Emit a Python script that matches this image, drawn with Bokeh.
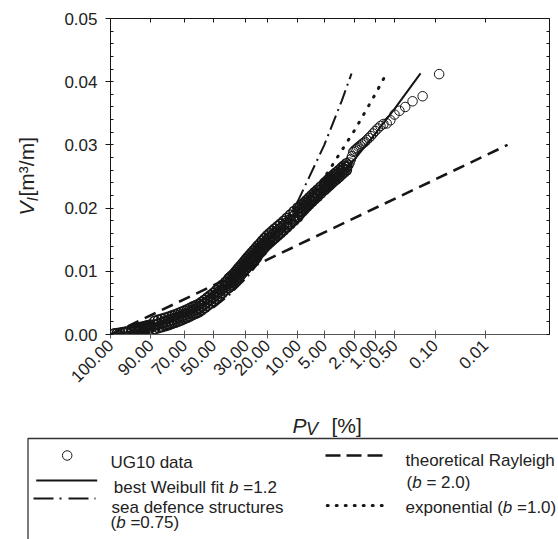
import numpy as np
from bokeh.plotting import figure
from bokeh.models import Range1d, LinearAxis, FixedTicker, SingleIntervalTicker, NumeralTickFormatter
from bokeh.layouts import row
from bokeh.embed import file_html
from bokeh.resources import INLINE
from bokeh.core.properties import value

FONT = "Liberation Sans"
INK = "#161616"
TXT = "#222222"

# ---------------- data ----------------
# x axis: exceedance probability P_V [%] (Rayleigh-linear probability scale)
tick_P = [100, 90, 70, 50, 30, 20, 10, 5, 2, 1, 0.5, 0.1, 0.01]
tick_labels = ["100.00", "90.00", "70.00", "50.00", "30.00", "20.00", "10.00",
               "5.00", "2.00", "1.00", "0.50", "0.10", "0.01"]

# UG10 data - dense part (centre of the band)
band_P = [99.9, 99.7, 99.4, 99.0, 98.5, 98.0, 97.0, 96.0, 95.0, 94.0, 93.0, 92.0, 91.0, 90.0,
          88.0, 86.0, 84.0, 82.0, 80.0, 78.0, 76.0, 74.0, 72.0, 70.0, 68.0, 66.0, 64.0, 62.0,
          60.0, 58.0, 56.0, 54.0, 52.0, 50.0, 48.0, 46.0, 44.0, 42.0, 40.0, 39.0, 38.0, 37.0,
          36.0, 35.0, 34.0, 33.0, 32.0, 31.0, 30.0, 29.0, 28.0, 27.0, 26.0, 25.0, 24.0, 23.0,
          22.0, 21.0, 20.0, 19.0, 18.0, 17.0, 16.0, 15.0, 14.0, 13.0, 12.0, 11.0, 10.0, 9.5,
          9.0, 8.5, 8.0, 7.5, 7.0, 6.5, 6.0, 5.5, 5.0, 4.75, 4.5, 4.25, 4.0, 3.75, 3.5, 3.25,
          3.0, 2.8, 2.6]
band_V = [0.00011, 0.00017, 0.00024, 0.00030, 0.00038, 0.00043, 0.00055, 0.00070, 0.00081,
          0.00092, 0.00103, 0.00112, 0.00120, 0.00130, 0.00149, 0.00168, 0.00185, 0.00201,
          0.00217, 0.00234, 0.00253, 0.00272, 0.00291, 0.00312, 0.00332, 0.00354, 0.00377,
          0.00397, 0.00419, 0.00449, 0.00483, 0.00519, 0.00555, 0.00592, 0.00634, 0.00677,
          0.00720, 0.00764, 0.00810, 0.00834, 0.00858, 0.00883, 0.00915, 0.00946, 0.00979,
          0.01011, 0.01044, 0.01081, 0.01114, 0.01149, 0.01185, 0.01220, 0.01256, 0.01293,
          0.01331, 0.01369, 0.01410, 0.01451, 0.01492, 0.01527, 0.01562, 0.01600, 0.01638,
          0.01677, 0.01722, 0.01769, 0.01820, 0.01875, 0.01932, 0.01964, 0.01997, 0.02033,
          0.02071, 0.02111, 0.02152, 0.02195, 0.02237, 0.02285, 0.02337, 0.02364, 0.02392,
          0.02422, 0.02451, 0.02483, 0.02514, 0.02549, 0.02587, 0.02617, 0.02652]
# UG10 data - upper and lower edge of the dense band (from P = 97 % down)
spread_P = band_P[6:]
spread_hi = [0.00075, 0.00090, 0.00101, 0.00112, 0.00123, 0.00132, 0.00140, 0.00150,
             0.00209, 0.00228, 0.00245, 0.00261, 0.00277, 0.00294, 0.00313, 0.00332, 0.00351,
             0.00372, 0.00392, 0.00414, 0.00437, 0.00457, 0.00479, 0.00509, 0.00543, 0.00579,
             0.00615, 0.00652, 0.00694, 0.00737, 0.00780, 0.00824,
             0.00880, 0.00904, 0.00928, 0.00953, 0.00985, 0.01016, 0.01049, 0.01081, 0.01114,
             0.01151, 0.01184, 0.01219, 0.01255, 0.01290, 0.01326, 0.01363, 0.01401, 0.01439,
             0.01480, 0.01521, 0.01562, 0.01597, 0.01632, 0.01670, 0.01708, 0.01747, 0.01792,
             0.01839, 0.01890, 0.01945, 0.02002,
             0.02014, 0.02047, 0.02083, 0.02121, 0.02161, 0.02202, 0.02245, 0.02287, 0.02335,
             0.02387, 0.02414, 0.02442, 0.02472, 0.02501, 0.02533, 0.02564, 0.02599, 0.02637,
             0.02667, 0.02702]
spread_lo = [0.00035, 0.00050, 0.00061, 0.00072, 0.00083, 0.00092, 0.00100, 0.00110,
             0.00089, 0.00108, 0.00125, 0.00141, 0.00157, 0.00174, 0.00193, 0.00212, 0.00231,
             0.00252, 0.00272, 0.00294, 0.00317, 0.00337, 0.00359, 0.00389, 0.00423, 0.00459,
             0.00495, 0.00532, 0.00574, 0.00617, 0.00660, 0.00704,
             0.00740, 0.00764, 0.00788, 0.00813, 0.00845, 0.00876, 0.00909, 0.00941, 0.00974,
             0.01011, 0.01044, 0.01079, 0.01115, 0.01150, 0.01186, 0.01223, 0.01261, 0.01299,
             0.01340, 0.01381, 0.01422, 0.01457, 0.01492, 0.01530, 0.01568, 0.01607, 0.01652,
             0.01699, 0.01750, 0.01805, 0.01862,
             0.01914, 0.01947, 0.01983, 0.02021, 0.02061, 0.02102, 0.02145, 0.02187, 0.02235,
             0.02287, 0.02314, 0.02342, 0.02372, 0.02401, 0.02433, 0.02464, 0.02499, 0.02537,
             0.02567, 0.02602]
# UG10 data - largest events
tail_P = [2.52, 2.436, 2.352, 2.268, 2.184, 2.1, 2.016, 1.932, 1.848, 1.764, 1.68, 1.596,
          1.512, 1.428, 1.344, 1.26, 1.176, 1.092, 1.008, 0.924, 0.84, 0.756, 0.672, 0.588,
          0.504, 0.42, 0.336, 0.252, 0.168, 0.084]
tail_V = [0.0266, 0.0268, 0.0272, 0.0277, 0.0282, 0.0289, 0.0291, 0.0293, 0.0295, 0.0297,
          0.0299, 0.0301, 0.0303, 0.0305, 0.0308, 0.0311, 0.0314, 0.0318, 0.0322, 0.0326,
          0.0330, 0.0333, 0.0334, 0.0339, 0.0348, 0.0354, 0.0360, 0.0369, 0.0377, 0.0412]

# best Weibull fit b = 1.2
weib_P = [100, 99, 95, 90, 80, 70, 60, 50, 40, 30, 20, 10, 5, 2, 1, 0.5, 0.183]
weib_V = [0, 0.000193, 0.000750, 0.001366, 0.002553, 0.003773, 0.005090, 0.006566, 0.008284,
          0.010401, 0.013246, 0.017853, 0.022231, 0.027768, 0.031811, 0.035754, 0.04133]
# exponential b = 1.0
exp_P = [100, 99, 95, 90, 80, 70, 60, 50, 40, 30, 20, 10, 5, 2, 1, 0.674]
exp_V = [0, 0.0000831, 0.000424, 0.000871, 0.001845, 0.002950, 0.004225, 0.005732, 0.007578,
         0.009957, 0.013310, 0.019042, 0.024775, 0.032352, 0.038085, 0.04135]
# sea defence structures b = 0.75
sea_P = [100, 99, 95, 90, 80, 70, 60, 50, 40, 30, 20, 10, 5, 3, 2.215]
sea_V = [0, 0.0000151, 0.000132, 0.000345, 0.000939, 0.001755, 0.002834, 0.004258, 0.006176,
         0.008890, 0.013089, 0.021101, 0.029969, 0.036970, 0.041303]
# theoretical Rayleigh b = 2.0
ray_P = [100, 0.00324]
ray_V = [0, 0.0300]


def s_of(P):
    """Rayleigh probability-paper coordinate of an exceedance probability in %."""
    return np.sqrt(np.abs(-np.log(np.asarray(P, dtype=float) / 100.0)))


# ---------------- layout geometry (page pixels) ----------------
W = 558
H_TOP = 400            # height of the plot row
YT_W = 40              # strip holding the vertical axis title
FR_L, FR_T, FR_W, FR_H = 110, 18, 439, 316
X_MAX = 3.555
Y_MAX = 0.05
PX_Y = FR_H / Y_MAX

# ---------------- main plot ----------------
p = figure(width=W - YT_W, height=H_TOP, x_range=Range1d(0, X_MAX), y_range=Range1d(0, Y_MAX),
           output_backend="svg", toolbar_location=None,
           min_border_left=FR_L - YT_W, min_border_right=W - FR_L - FR_W,
           min_border_top=FR_T, min_border_bottom=H_TOP - FR_T - FR_H)
p.xgrid.visible = False
p.ygrid.visible = False
p.outline_line_color = None

tick_s = [float(v) for v in s_of(tick_P)]

xa = p.xaxis[0]
xa.ticker = FixedTicker(ticks=tick_s)
xa.major_label_overrides = {t: l for t, l in zip(tick_s, tick_labels)}
xa.major_label_orientation = np.pi / 4
xa.major_tick_in = 4
xa.major_tick_out = 4
xa.minor_tick_line_color = None
xa.axis_line_color = "#555555"
xa.major_tick_line_color = "#555555"
xa.major_label_text_font = FONT
xa.major_label_text_font_size = "17px"
xa.major_label_text_color = TXT
xa.major_label_standoff = 4

ya = p.yaxis[0]
ya.ticker = SingleIntervalTicker(interval=0.01, num_minor_ticks=5)
ya.formatter = NumeralTickFormatter(format="0.00")
ya.major_tick_out = 5
ya.major_tick_in = 0
ya.minor_tick_in = 3
ya.minor_tick_out = 0
ya.axis_line_color = INK
ya.major_tick_line_color = INK
ya.minor_tick_line_color = INK
ya.major_label_text_font = FONT
ya.major_label_text_font_size = "17px"
ya.major_label_text_color = TXT
ya.major_label_standoff = 8

top = LinearAxis(ticker=FixedTicker(ticks=tick_s), major_tick_in=4, major_tick_out=0,
                 minor_tick_line_color=None, major_label_text_font_size="0px",
                 major_label_text_color=None, axis_line_color=INK,
                 major_tick_line_color=INK, major_label_standoff=0)
p.add_layout(top, "above")
right = LinearAxis(ticker=SingleIntervalTicker(interval=0.01, num_minor_ticks=5),
                   major_tick_in=3, major_tick_out=0, minor_tick_in=3, minor_tick_out=0,
                   major_label_text_font_size="0px", major_label_text_color=None,
                   axis_line_color=INK, major_tick_line_color=INK,
                   minor_tick_line_color=INK, major_label_standoff=0)
p.add_layout(right, "right")

# curves
p.line(s_of(ray_P), ray_V, line_color=INK, line_width=2.6, line_dash="12 7")
p.line(s_of(sea_P), sea_V, line_color=INK, line_width=2.0, line_dash="15 5 2 5")
p.line(s_of(exp_P), exp_V, line_color=INK, line_width=3.0, line_dash="1 9", line_cap="round")
p.line(s_of(weib_P), weib_V, line_color=INK, line_width=2.0)
# data
band_kw = dict(marker="circle", size=10, fill_color=None, line_color=INK, line_width=1.6)
p.scatter(s_of(spread_P), spread_hi, **band_kw)
p.scatter(s_of(spread_P), spread_lo, **band_kw)
p.scatter(s_of(band_P), band_V, **band_kw)
p.scatter(s_of(tail_P), tail_V, marker="circle", size=9.5, fill_color=None,
          line_color=INK, line_width=1.0)

# ---------------- vertical axis title strip ----------------
yt = figure(width=YT_W, height=H_TOP, x_range=Range1d(0, YT_W), y_range=p.y_range,
            x_axis_type=None, y_axis_type=None, output_backend="svg", toolbar_location=None,
            min_border_left=0, min_border_right=0, min_border_top=FR_T,
            min_border_bottom=H_TOP - FR_T - FR_H)
yt.xgrid.visible = False
yt.ygrid.visible = False
yt.outline_line_color = None


def vy(py):
    return (FR_T + FR_H - py) / PX_Y


tkw = dict(text_font=value(FONT), text_color=TXT, text_align="left",
           text_baseline="middle", angle=np.pi / 2)
yt.text(x=[26], y=[vy(215)], text=["V"], text_font_size=value("21px"),
        text_font_style="italic", **tkw)
yt.text(x=[32], y=[vy(200.5)], text=["l"], text_font_size=value("15px"),
        text_font_style="italic", **tkw)
yt.text(x=[26], y=[vy(196)], text=["[m³/m]"], text_font_size=value("21px"), **tkw)

# ---------------- x title + legend panel ----------------
H_BOT = 539 - H_TOP
lg = figure(width=W, height=H_BOT, x_range=Range1d(0, W), y_range=Range1d(539, H_TOP),
            x_axis_type=None, y_axis_type=None, output_backend="svg",
            toolbar_location=None, min_border=0)
lg.xgrid.visible = False
lg.ygrid.visible = False
lg.outline_line_color = None

hkw = dict(text_font=value(FONT), text_color=TXT, text_align="left",
           text_baseline="alphabetic")
lg.text(x=[292], y=[425], text=["P"], text_font_size=value("21px"),
        text_font_style="italic", **hkw)
lg.text(x=[305.5], y=[428.5], text=["V"], text_font_size=value("18px"),
        text_font_style="italic", **hkw)
lg.text(x=[331], y=[425], text=["[%]"], text_font_size=value("21px"), **hkw)

lg.line([27.5, 27.5, 570], [560, 438, 438], line_color="#333333", line_width=1.3)

lg.scatter([66.7], [455], marker="circle", size=9.5, fill_color=None, line_color=INK,
           line_width=1.0)
lg.line([35.7, 96.7], [480, 480], line_color=INK, line_width=2.0)
lg.line([33, 95], [498, 498], line_color=INK, line_width=2.0, line_dash="20 6 2 7")
lg.line([325, 382], [455, 455], line_color=INK, line_width=2.6, line_dash="15 6")
lg.line([326.7, 384], [505, 505], line_color=INK, line_width=3.0, line_dash="1 8",
        line_cap="round")

lg.text(x=[110, 113.3, 242.8, 111, 110, 129.9, 405, 406, 425.9, 405, 516.5],
        y=[461.5, 487, 487, 506.5, 522, 522, 460, 482, 482, 506.5, 506.5],
        text=["UG10 data", "best Weibull fit", "=1.2", "sea defence structures", "(",
              "=0.75)", "theoretical Rayleigh", "(", "= 2.0)", "exponential (", "=1.0)"],
        text_font_size=value("17px"), **hkw)
lg.text(x=[228.6, 115.7, 411.7, 502.3], y=[487, 522, 482, 506.5], text=["b", "b", "b", "b"],
        text_font_size=value("17px"), text_font_style="italic", **hkw)

top_row = row(yt, p, spacing=0)
open("out.html", "w").write(file_html([top_row, lg], INLINE))
